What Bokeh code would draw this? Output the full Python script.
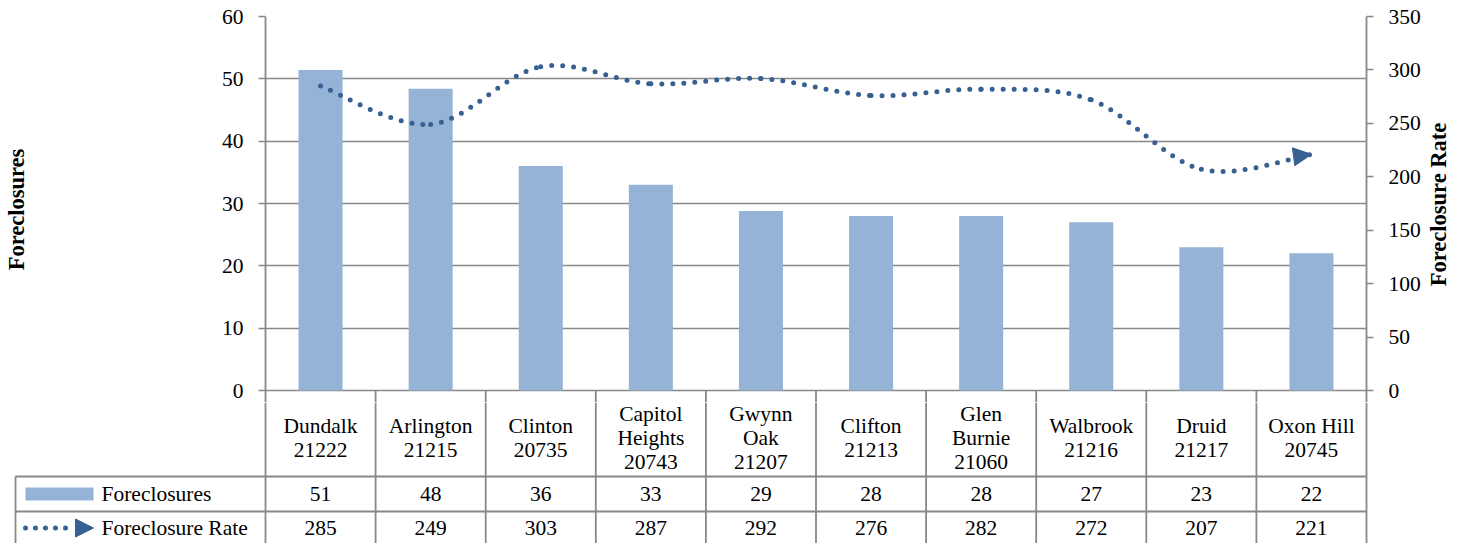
import numpy as np
from bokeh.plotting import figure
from bokeh.layouts import column, row
from bokeh.models import Range1d, LinearAxis, FixedTicker, Arrow, NormalHead
from bokeh.core.properties import value
from bokeh.embed import file_html
from bokeh.resources import INLINE

# ---------------- data ----------------
places = ["Dundalk", "Arlington", "Clinton", "Capitol\nHeights", "Gwynn\nOak",
          "Clifton", "Glen\nBurnie", "Walbrook", "Druid", "Oxon Hill"]
zips = ["21222", "21215", "20735", "20743", "21207",
        "21213", "21060", "21216", "21217", "20745"]
foreclosures = [51.4, 48.4, 36, 33, 28.8, 28, 28, 27, 23, 22]
foreclosures_label = [51, 48, 36, 33, 29, 28, 28, 27, 23, 22]
rates = [285, 249, 303, 287, 292, 276, 282, 272, 207, 221]
left_ticks = [0, 10, 20, 30, 40, 50, 60]
right_ticks = [0, 50, 100, 150, 200, 250, 300, 350]
left_title = "Foreclosures"
right_title = "Foreclosure Rate"
series_names = ["Foreclosures", "Foreclosure Rate"]

# ---------------- styles ----------------
FONT = "Liberation Serif"
BAR = "#95B3D7"
LINE = "#376092"
GRID = "#888888"
TXT = "#000000"
FS = "21.5px"
FS_T = "22.5px"

W_ALL = 1451
H = 543
RT_W = 27                # strip holding the right-hand axis title
W = W_ALL - RT_W
FRAME_L = 265
FRAME_W = 1101
COL = FRAME_W / 10.0
FRAME_TOP = 16           # canvas px of the top gridline
ZERO_Y = 390             # canvas px of the zero line
EXT = 12                 # px of frame below the zero line
TOP_H = ZERO_Y + EXT
TAB_H = H - TOP_H
PPU = (ZERO_Y - FRAME_TOP) / 60.0
D = EXT / PPU

n = len(places)
xs = [i + 0.5 for i in range(n)]


def tx(ximg):
    """page pixel x -> category-axis units"""
    return (ximg - FRAME_L) / COL


p = figure(width=W, height=TOP_H, x_range=Range1d(0, n), y_range=Range1d(-D, 60),
           output_backend="svg", toolbar_location=None,
           x_axis_location=None, y_axis_location="left",
           min_border_left=FRAME_L, min_border_right=W - FRAME_L - FRAME_W,
           min_border_top=FRAME_TOP, min_border_bottom=0)
p.frame_align = False
p.outline_line_color = None
p.xgrid.visible = False
p.ygrid.grid_line_color = GRID
p.ygrid.grid_line_width = 1.5
p.ygrid.ticker = FixedTicker(ticks=left_ticks)

ax = p.yaxis[0]
ax.ticker = FixedTicker(ticks=left_ticks)
ax.axis_line_color = GRID
ax.axis_line_width = 1.8
ax.major_tick_line_color = GRID
ax.major_tick_line_width = 1.5
ax.major_tick_in = 0
ax.major_tick_out = 7
ax.minor_tick_line_color = None
ax.major_label_text_font = FONT
ax.major_label_text_font_size = FS
ax.major_label_text_color = TXT
ax.major_label_standoff = 15
ax.axis_label = left_title
ax.axis_label_text_font = FONT
ax.axis_label_text_font_size = FS_T
ax.axis_label_text_font_style = "bold"
ax.axis_label_text_color = TXT
ax.axis_label_standoff = 190

p.extra_y_ranges = {"rate": Range1d(-D * 350 / 60.0, 350)}
rax = LinearAxis(y_range_name="rate", ticker=FixedTicker(ticks=right_ticks))
rax.axis_line_color = GRID
rax.axis_line_width = 1.8
rax.major_tick_line_color = GRID
rax.major_tick_line_width = 1.5
rax.major_tick_in = 0
rax.major_tick_out = 7
rax.minor_tick_line_color = None
rax.major_label_text_font = FONT
rax.major_label_text_font_size = FS
rax.major_label_text_color = TXT
rax.major_label_standoff = 15
p.add_layout(rax, "right")

p.vbar(x=xs, top=foreclosures, width=0.4, color=BAR, line_color=None)

# table column separators in the strip just below the zero line
p.segment(x0=list(range(1, n)), y0=[-D] * (n - 1), x1=list(range(1, n)), y1=[0] * (n - 1),
          line_color=GRID, line_width=1.8)

# smoothed (Excel-like) curve through the rate points, as Bezier segments
P = np.array([xs, rates], dtype=float).T
x0, y0, x1, y1, cx0, cy0, cx1, cy1 = ([] for _ in range(8))
for i in range(n - 1):
    pm = P[max(i - 1, 0)]
    pa = P[i]
    pb = P[i + 1]
    pn = P[min(i + 2, n - 1)]
    c0 = pa + (pb - pm) / 6.0
    c1 = pb - (pn - pa) / 6.0
    x0.append(pa[0]); y0.append(pa[1]); x1.append(pb[0]); y1.append(pb[1])
    cx0.append(c0[0]); cy0.append(c0[1]); cx1.append(c1[0]); cy1.append(c1[1])
p.bezier(x0=x0, y0=y0, x1=x1, y1=y1, cx0=cx0, cy0=cy0, cx1=cx1, cy1=cy1,
         line_color=LINE, line_width=5, line_dash="0 11", line_cap="round",
         y_range_name="rate")
p.add_layout(Arrow(end=NormalHead(size=18, fill_color=LINE, line_color=LINE),
                   x_start=cx1[-1], y_start=cy1[-1], x_end=x1[-1], y_end=y1[-1],
                   line_alpha=0, y_range_name="rate"))

# ---------------- right-hand axis title (reads bottom to top) ----------------
rt = figure(width=RT_W, height=TOP_H, x_range=Range1d(0, RT_W), y_range=Range1d(0, TOP_H),
            output_backend="svg", toolbar_location=None,
            x_axis_location=None, y_axis_location=None,
            min_border_left=0, min_border_right=0, min_border_top=0, min_border_bottom=0)
rt.frame_align = False
rt.outline_line_color = None
rt.grid.visible = False
rt.text(x=[RT_W / 2.0], y=[TOP_H - 204], text=[right_title], angle=np.pi / 2,
        text_align="center", text_baseline="middle", text_font=value(FONT),
        text_font_size=FS_T, text_font_style="bold", text_color=TXT)

# ---------------- data table ----------------
t = figure(width=W, height=TAB_H, x_range=Range1d(-FRAME_L / COL, (W - FRAME_L) / COL),
           y_range=Range1d(TAB_H, 0), output_backend="svg", toolbar_location=None,
           x_axis_location=None, y_axis_location=None,
           min_border_left=0, min_border_right=0, min_border_top=0, min_border_bottom=0)
t.frame_align = False
t.outline_line_color = None
t.grid.visible = False

ROW1 = 74
ROW2 = 109
t.segment(x0=[tx(15), tx(15)], y0=[ROW1, ROW2], x1=[n, n], y1=[ROW1, ROW2],
          line_color=GRID, line_width=1.8)
t.segment(x0=list(range(n + 1)), y0=[0] * (n + 1), x1=list(range(n + 1)), y1=[TAB_H] * (n + 1),
          line_color=GRID, line_width=1.8)
t.segment(x0=[tx(15)], y0=[ROW1], x1=[tx(15)], y1=[TAB_H], line_color=GRID, line_width=1.8)

cat_text = [f"{a}\n{z}" for a, z in zip(places, zips)]
t.text(x=xs, y=[35] * n, text=cat_text, text_align="center", text_baseline="middle",
       text_font=value(FONT), text_font_size=FS, text_color=TXT, text_line_height=1.0)
t.text(x=xs, y=[91.5] * n, text=[str(v) for v in foreclosures_label], text_align="center",
       text_baseline="middle", text_font=value(FONT), text_font_size=FS, text_color=TXT)
t.text(x=xs, y=[125.5] * n, text=[str(v) for v in rates], text_align="center",
       text_baseline="middle", text_font=value(FONT), text_font_size=FS, text_color=TXT)

# legend keys
t.quad(left=[tx(25)], right=[tx(93)], top=[85], bottom=[98], color=BAR, line_color=None)
t.segment(x0=[tx(25)], y0=[125.5], x1=[tx(66)], y1=[125.5], line_color=LINE, line_width=5,
          line_dash="0 10", line_cap="round")
t.add_layout(Arrow(end=NormalHead(size=18, fill_color=LINE, line_color=LINE),
                   x_start=tx(78), y_start=125.5, x_end=tx(93), y_end=125.5, line_alpha=0))
t.text(x=[tx(101), tx(101)], y=[91.5, 125.5], text=series_names,
       text_align="left", text_baseline="middle", text_font=value(FONT),
       text_font_size=FS, text_color=TXT)

layout = row(column(p, t, spacing=0), rt, spacing=0)
open("out.html", "w").write(file_html(layout, INLINE))
